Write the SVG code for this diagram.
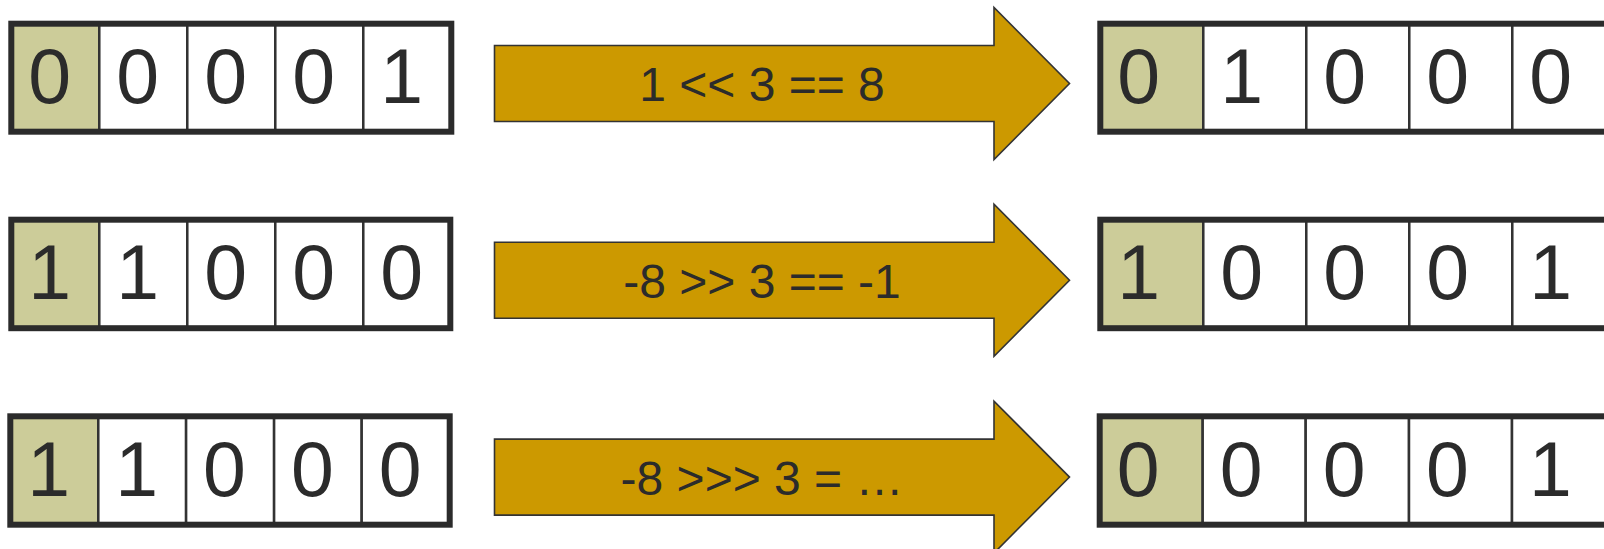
<svg xmlns="http://www.w3.org/2000/svg" width="1604" height="549" viewBox="0 0 1604 549">
<style>
.bg{fill:#ffffff}
.c{fill:#ffffff;stroke:#333333;stroke-width:2.5}
.c.hi{fill:#cccc99}
.o{fill:none;stroke:#2b2b2b;stroke-width:6}
.d{font-family:"Liberation Sans",Arial,sans-serif;font-size:77px;fill:#2b2b2b}
.arr{fill:#cc9900;stroke:#333333;stroke-width:1.6;stroke-linejoin:miter}
.lbl{font-family:"Liberation Sans",Arial,sans-serif;font-size:48px;fill:#2b2b2b;text-anchor:middle}
</style>
<rect class="bg" x="0" y="0" width="1604" height="549"/>
<defs>
<path id="arrowShape" d="M494.5,45.5 H994 V7.5 L1069.5,83.5 L994,159.5 V121.5 H494.5 Z"/>
</defs>

<g id="row1-input" transform="translate(11.3,23.7)">
<rect class="c hi" x="0" y="0" width="88" height="108"/>
<rect class="c" x="88" y="0" width="88" height="108"/>
<rect class="c" x="176" y="0" width="88" height="108"/>
<rect class="c" x="264" y="0" width="88" height="108"/>
<rect class="c" x="352" y="0" width="88" height="108"/>
<rect class="o" x="0" y="0" width="440" height="108"/>
<text class="d" x="17" y="79.5">0</text>
<text class="d" x="105" y="79.5">0</text>
<text class="d" x="193" y="79.5">0</text>
<text class="d" x="281" y="79.5">0</text>
<text class="d" x="369" y="79.5">1</text>
</g>

<g id="row1-output" transform="translate(1100.3,23.7)">
<rect class="c hi" x="0" y="0" width="103" height="108"/>
<rect class="c" x="103" y="0" width="103" height="108"/>
<rect class="c" x="206" y="0" width="103" height="108"/>
<rect class="c" x="309" y="0" width="103" height="108"/>
<rect class="c" x="412" y="0" width="103" height="108"/>
<rect class="o" x="0" y="0" width="515" height="108"/>
<text class="d" x="17" y="79.5">0</text>
<text class="d" x="120" y="79.5">1</text>
<text class="d" x="223" y="79.5">0</text>
<text class="d" x="326" y="79.5">0</text>
<text class="d" x="429" y="79.5">0</text>
</g>

<g id="row2-input" transform="translate(11.3,219.7)">
<rect class="c hi" x="0" y="0" width="88" height="108.5"/>
<rect class="c" x="88" y="0" width="88" height="108.5"/>
<rect class="c" x="176" y="0" width="88" height="108.5"/>
<rect class="c" x="264" y="0" width="88" height="108.5"/>
<rect class="c" x="352" y="0" width="87" height="108.5"/>
<rect class="o" x="0" y="0" width="439" height="108.5"/>
<text class="d" x="17" y="79.5">1</text>
<text class="d" x="105" y="79.5">1</text>
<text class="d" x="193" y="79.5">0</text>
<text class="d" x="281" y="79.5">0</text>
<text class="d" x="369" y="79.5">0</text>
</g>

<g id="row2-output" transform="translate(1100.3,219.7)">
<rect class="c hi" x="0" y="0" width="103" height="108.5"/>
<rect class="c" x="103" y="0" width="103" height="108.5"/>
<rect class="c" x="206" y="0" width="103" height="108.5"/>
<rect class="c" x="309" y="0" width="103" height="108.5"/>
<rect class="c" x="412" y="0" width="103" height="108.5"/>
<rect class="o" x="0" y="0" width="515" height="108.5"/>
<text class="d" x="17" y="79.5">1</text>
<text class="d" x="120" y="79.5">0</text>
<text class="d" x="223" y="79.5">0</text>
<text class="d" x="326" y="79.5">0</text>
<text class="d" x="429" y="79.5">1</text>
</g>

<g id="row3-input" transform="translate(10.3,416.3)">
<rect class="c hi" x="0" y="0" width="88" height="108.4"/>
<rect class="c" x="88" y="0" width="87.8" height="108.4"/>
<rect class="c" x="175.8" y="0" width="88" height="108.4"/>
<rect class="c" x="263.8" y="0" width="87.6" height="108.4"/>
<rect class="c" x="351.4" y="0" width="88" height="108.4"/>
<rect class="o" x="0" y="0" width="439.4" height="108.4"/>
<text class="d" x="17" y="79.7">1</text>
<text class="d" x="105" y="79.7">1</text>
<text class="d" x="192.8" y="79.7">0</text>
<text class="d" x="280.8" y="79.7">0</text>
<text class="d" x="368.4" y="79.7">0</text>
</g>

<g id="row3-output" transform="translate(1099.7,416.3)">
<rect class="c hi" x="0" y="0" width="103" height="108.4"/>
<rect class="c" x="103" y="0" width="103" height="108.4"/>
<rect class="c" x="206" y="0" width="103.3" height="108.4"/>
<rect class="c" x="309.3" y="0" width="103" height="108.4"/>
<rect class="c" x="412.3" y="0" width="103" height="108.4"/>
<rect class="o" x="0" y="0" width="515.3" height="108.4"/>
<text class="d" x="17" y="79.7">0</text>
<text class="d" x="120" y="79.7">0</text>
<text class="d" x="223" y="79.7">0</text>
<text class="d" x="326.3" y="79.7">0</text>
<text class="d" x="429.3" y="79.7">1</text>
</g>

<g id="connectors">
<g id="arrow1">
<use href="#arrowShape" class="arr"/>
<text class="lbl" x="762" y="101">1 &lt;&lt; 3 == 8</text>
</g>
<g id="arrow2" transform="translate(0,196.7)">
<use href="#arrowShape" class="arr"/>
<text class="lbl" x="762" y="101">-8 &gt;&gt; 3 == -1</text>
</g>
<g id="arrow3" transform="translate(0,393.6)">
<use href="#arrowShape" class="arr"/>
<text class="lbl" x="762" y="101">-8 &gt;&gt;&gt; 3 = …</text>
</g>
</g>
</svg>
